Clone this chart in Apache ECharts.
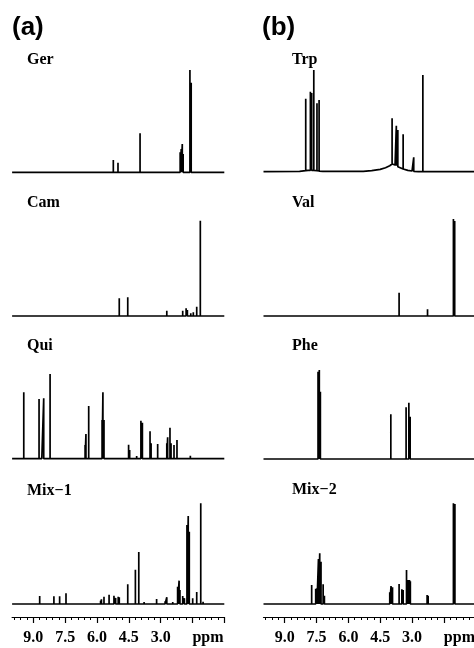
<!DOCTYPE html>
<html>
<head>
<meta charset="utf-8">
<script src="https://cdn.jsdelivr.net/npm/echarts@6/dist/echarts.min.js"></script>
<style>
html, body { margin: 0; padding: 0; background: #fff; }
#chart { width: 474px; height: 648px; }
</style>
</head>
<body>
<div id="chart"></div>
<script>
// peaks: [ppm, top] or [ppm, top, base]; heights in arbitrary units per panel
const gerPeaks = [[5.23, 37], [5.01, 29], [3.97, 117], [2.9, 3], [2.08, 60], [2.03, 70], [1.98, 85], [1.94, 55],
  [1.62, 307], [1.56, 269], [1.2, 5], [1.05, 4], [0.92, 4]];
const camPeaks = [[4.95, 53], [4.55, 56], [3.6, 2], [2.71, 16], [1.96, 16], [1.8, 23], [1.74, 18], [1.58, 8],
  [1.46, 11], [1.3, 28], [1.13, 286], [0.99, 5], [0.9, 3]];
const quiPeaks = [[9.45, 199], [8.73, 179], [8.6, 5], [8.51, 181], [8.21, 254], [6.56, 41], [6.52, 74], [6.39, 158],
  [5.76, 116], [5.72, 199], [5.67, 116], [4.88, 4], [4.7, 3], [4.51, 42], [4.46, 26], [4.13, 8], [3.93, 114],
  [3.86, 108], [3.5, 82], [3.45, 46], [3.14, 44], [2.71, 46], [2.67, 64], [2.56, 93], [2.51, 46], [2.37, 41],
  [2.23, 56], [2.0, 3], [1.85, 3], [1.6, 9]];
const mix1Peaks = [[8.7, 24], [8.03, 23], [7.76, 23], [7.46, 32], [5.83, 10], [5.79, 14], [5.67, 22], [5.43, 28],
  [5.2, 25], [5.12, 18], [5.0, 22], [4.95, 20], [4.55, 59], [4.19, 103], [4.03, 156], [3.78, 6], [3.19, 15],
  [2.79, 8], [2.71, 20], [2.43, 6], [2.2, 52], [2.13, 70], [2.09, 42], [1.96, 24], [1.88, 17], [1.76, 237],
  [1.7, 264], [1.65, 217], [1.49, 17], [1.3, 36], [1.11, 302], [1.0, 7], [0.92, 5]];
const trpPeaks = [[8.01, 219, 3], [7.79, 240, 4], [7.73, 236, 4], [7.63, 305, 4], [7.48, 205, 3], [7.38, 215, 2],
  [3.94, 160, 23], [3.74, 138, 18], [3.67, 125, 15], [3.42, 112, 8], [2.92, 43, 1], [2.49, 290]];
const trpHump = [[8.3, 1], [7.9, 4], [7.2, 1], [5.3, 1], [4.9, 3], [4.5, 7], [4.25, 12], [4.05, 18], [3.8, 20],
  [3.6, 14], [3.2, 4], [3.0, 2], [2.7, 0]];
const valPeaks = [[3.61, 70], [2.27, 20], [1.42, 3], [1.05, 291], [0.99, 285]];
const phePeaks = [[7.43, 262], [7.37, 267], [7.32, 202], [4.0, 134], [3.28, 155], [3.15, 169], [3.09, 127]];
const mix2Peaks = [[7.73, 57], [7.54, 46], [7.48, 47], [7.41, 135], [7.35, 152], [7.29, 127], [7.19, 59],
  [7.13, 25], [4.05, 35], [3.99, 54], [3.92, 50], [3.61, 60], [3.48, 44], [3.42, 42], [3.26, 102], [3.2, 72],
  [3.12, 72], [3.08, 68], [2.29, 27], [2.24, 25], [1.05, 302], [0.98, 300]];

const names = ['Ger', 'Cam', 'Qui', 'Mix−1', 'Trp', 'Val', 'Phe', 'Mix−2'];
const peakSets = [gerPeaks, camPeaks, quiPeaks, mix1Peaks, trpPeaks, valPeaks, phePeaks, mix2Peaks];
const baseSets = [[], [], [], [], trpHump, [], [], []];

const majorTicks = [0, 1.5, 3, 4.5, 6, 7.5, 9];
const tickLabels = [3, 4.5, 6, 7.5, 9];
const minorTicks = [0.3, 0.6, 0.9, 1.2, 1.8, 2.1, 2.4, 2.7, 3.3, 3.6, 3.9, 4.2, 4.8, 5.1, 5.4, 5.7, 6.3, 6.6,
  6.9, 7.2, 7.8, 8.1, 8.4, 8.7, 9.3, 9.6, 9.9];

// layout: [top of tallest peak, baseline] per panel
const rows = [[70, 172.3], [220.7, 316], [374, 458.7], [503.3, 604],
  [70, 171.7], [219, 316], [370, 459], [503.3, 604]];

function buildLine(peaks, base) {
  const pts = [];
  base.forEach(b => pts.push({ x: b[0], p: [[b[0], b[1]]] }));
  peaks.forEach(p => {
    const b = p[2] || 0;
    pts.push({ x: p[0], p: [[p[0], b], [p[0], p[1]], [p[0], b]] });
  });
  pts.sort((a, b) => b.x - a.x);
  const out = [[10, 0]];
  pts.forEach(o => o.p.forEach(q => out.push(q)));
  out.push([0, 0]);
  return out;
}

const grid = [], xAxis = [], yAxis = [], series = [], title = [];
const serif = 'Liberation Serif';
const labelFont = { color: '#000', fontFamily: serif, fontWeight: 'bold', fontSize: 16 };

for (let i = 0; i < 8; i++) {
  const right = i >= 4;
  const top = rows[i][0], base = rows[i][1];
  grid.push({
    left: right ? 263.5 : 12.1, width: 212.2,
    top: top, height: base - top,
    outerBoundsMode: 'none', containLabel: false
  });
  const maxH = Math.max(...peakSets[i].map(p => p[1]));
  const isBottom = (i === 3 || i === 7);
  xAxis.push({
    type: 'value', gridIndex: i, min: 0, max: 10, inverse: true,
    show: isBottom, position: 'bottom', offset: 13,
    axisLine: { show: true, onZero: false, lineStyle: { color: '#000', width: 1.2 } },
    axisTick: { show: true, length: 6, customValues: majorTicks, lineStyle: { color: '#000', width: 1.2 } },
    axisLabel: Object.assign({
      customValues: tickLabels, margin: 13,
      formatter: v => v.toFixed(1)
    }, labelFont),
    splitLine: { show: false }
  });
  yAxis.push({ type: 'value', gridIndex: i, min: 0, max: maxH, show: false });
  series.push({
    type: 'line', xAxisIndex: i, yAxisIndex: i,
    data: buildLine(peakSets[i], baseSets[i]),
    showSymbol: false, clip: false, silent: true,
    lineStyle: { color: '#000', width: 1.7 }
  });
  title.push({
    text: names[i], left: right ? 292 : 27,
    top: [52, 195, 338, 483, 52, 195, 338, 482][i], padding: 0,
    textStyle: { fontFamily: serif, fontWeight: 'bold', fontSize: 16, color: '#000' }
  });
}

// minor ticks and the ppm label on the bottom axes
[3, 7].forEach(g => {
  xAxis.push({
    type: 'value', gridIndex: g, min: 0, max: 10, inverse: true, position: 'bottom', offset: 13,
    axisLine: { show: false, onZero: false },
    axisTick: { show: true, length: 3, customValues: minorTicks, lineStyle: { color: '#000', width: 1 } },
    axisLabel: Object.assign({
      customValues: [1.5], margin: 13, align: 'left',
      formatter: () => 'ppm'
    }, labelFont),
    splitLine: { show: false }
  });
});

title.push({ text: '(a)', left: 12, top: 15, padding: 0,
  textStyle: { fontFamily: 'Liberation Sans', fontWeight: 'bold', fontSize: 26, color: '#000' } });
title.push({ text: '(b)', left: 262, top: 15, padding: 0,
  textStyle: { fontFamily: 'Liberation Sans', fontWeight: 'bold', fontSize: 26, color: '#000' } });

const myChart = echarts.init(document.getElementById('chart'));
myChart.setOption({
  backgroundColor: '#fff',
  animation: false,
  title: title,
  grid: grid,
  xAxis: xAxis,
  yAxis: yAxis,
  series: series
});
</script>
</body>
</html>
